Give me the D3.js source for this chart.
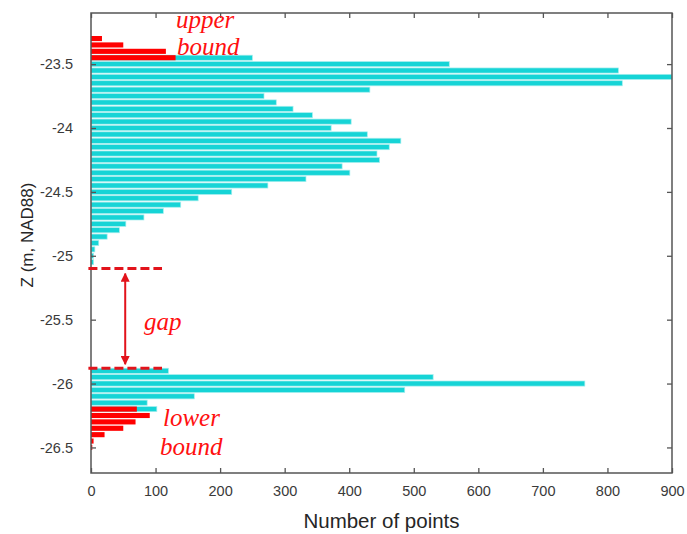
<!DOCTYPE html>
<html>
<head>
<meta charset="utf-8">
<script src="https://cdn.jsdelivr.net/npm/d3@7"></script>
<style>
  html, body { margin: 0; padding: 0; background: #fff; }
  svg { display: block; }
  .tick text { font-family: "Liberation Sans", Arial, sans-serif; fill: #3a3a3a; }
</style>
</head>
<body>
<svg id="chart" width="687" height="534"></svg>
<script>
// Histogram of point elevations (0.05 m bins)
const allZ = [
  -23.45, -23.5, -23.55, -23.6, -23.65, -23.7, -23.75, -23.8, -23.85, -23.9,
  -23.95, -24.0, -24.05, -24.1, -24.15, -24.2, -24.25, -24.3, -24.35, -24.4,
  -24.45, -24.5, -24.55, -24.6, -24.65, -24.7, -24.75, -24.8, -24.85, -24.9,
  -24.95, -25.0, -25.05,
  -25.9, -25.95, -26.0, -26.05, -26.1, -26.15, -26.2
];
const allCount = [
  250, 555, 817, 900, 823, 432, 268, 287, 313, 343,
  403, 372, 428, 480, 462, 443, 447, 389, 401, 333,
  274, 218, 166, 139, 112, 82, 54, 44, 25, 12,
  6, 4, 4,
  120, 530, 765, 486, 160, 87, 102
];

// Points falling in the upper and lower boundary layers
const boundZ = [-23.3, -23.35, -23.4, -23.45, -26.2, -26.25, -26.3, -26.35, -26.4, -26.45, -26.5];
const boundCount = [17, 50, 116, 131, 71, 91, 69, 50, 21, 4, 2];

// Gap between the two layers
const gapTop = -25.1;
const gapBottom = -25.88;
const gapLineEnd = 110;   // dashed markers extend to this count
const gapArrowAt = 53;    // arrow position on the count axis

const xTicks = [0, 100, 200, 300, 400, 500, 600, 700, 800, 900];
const yTicks = [-23.5, -24, -24.5, -25, -25.5, -26, -26.5];
const binWidth = 0.05;

const svg = d3.select("#chart");
const plotL = 91, plotR = 672, plotT = 13, plotB = 473;

const x = d3.scaleLinear().domain([0, 900]).range([plotL, plotR]);
const y = d3.scaleLinear().domain([-26.7, -23.1]).range([plotB, plotT]);
const barH = Math.abs(y(0) - y(binWidth)) * 0.8;

const defs = svg.append("defs");
defs.append("clipPath").attr("id", "plot")
  .append("rect").attr("x", plotL).attr("y", plotT)
  .attr("width", plotR - plotL).attr("height", plotB - plotT);

const plot = svg.append("g").attr("clip-path", "url(#plot)");

plot.selectAll("rect.all").data(allZ).enter().append("rect")
  .attr("class", "all")
  .attr("x", x(0))
  .attr("y", d => y(d) - barH / 2)
  .attr("width", (d, i) => x(allCount[i]) - x(0))
  .attr("height", barH)
  .attr("fill", "#16d4d6")
  .attr("stroke", "#a6eeee")
  .attr("stroke-width", 0.7);

plot.selectAll("rect.bound").data(boundZ).enter().append("rect")
  .attr("class", "bound")
  .attr("x", x(0))
  .attr("y", d => y(d) - barH / 2)
  .attr("width", (d, i) => x(boundCount[i]) - x(0))
  .attr("height", barH)
  .attr("fill", "#ff0000");

// Axes: ticks point inwards on all four sides
const axisColor = "#555";
const plainNum = d => String(d);
svg.append("g").attr("transform", `translate(${plotL},0)`)
  .call(d3.axisLeft(y).tickValues(yTicks).tickFormat(plainNum).tickSizeInner(-5).tickSizeOuter(0).tickPadding(18));
svg.append("g").attr("transform", `translate(0,${plotB})`)
  .call(d3.axisBottom(x).tickValues(xTicks).tickFormat(plainNum).tickSizeInner(-5).tickSizeOuter(0).tickPadding(13));
svg.append("g").attr("transform", `translate(${plotR},0)`)
  .call(d3.axisRight(y).tickValues(yTicks).tickSizeInner(-5).tickSizeOuter(0).tickFormat(""));
svg.append("g").attr("transform", `translate(0,${plotT})`)
  .call(d3.axisTop(x).tickValues(xTicks).tickSizeInner(-5).tickSizeOuter(0).tickFormat(""));

svg.selectAll(".domain").remove();
svg.selectAll(".tick line").attr("stroke", axisColor).attr("stroke-width", 1.3);
svg.selectAll(".tick text").attr("font-size", 14.5);

svg.append("rect")
  .attr("x", plotL).attr("y", plotT)
  .attr("width", plotR - plotL).attr("height", plotB - plotT)
  .attr("fill", "none").attr("stroke", axisColor).attr("stroke-width", 1.5);

// Axis titles
svg.append("text")
  .attr("x", (plotL + plotR) / 2).attr("y", 528)
  .attr("text-anchor", "middle")
  .attr("font-family", "Liberation Sans, Arial, sans-serif")
  .attr("font-size", 20.5).attr("fill", "#262626")
  .text("Number of points");

svg.append("text")
  .attr("transform", "translate(33,235) rotate(-90)")
  .attr("text-anchor", "middle")
  .attr("font-family", "Liberation Sans, Arial, sans-serif")
  .attr("font-size", 17).attr("fill", "#262626")
  .text("Z (m, NAD88)");

// Gap annotation
const red = "#e2131b";
[gapTop, gapBottom].forEach(v => {
  svg.append("line")
    .attr("x1", x(-4)).attr("x2", x(gapLineEnd))
    .attr("y1", y(v)).attr("y2", y(v))
    .attr("stroke", red).attr("stroke-width", 3)
    .attr("stroke-dasharray", "9,4");
});

defs.append("marker").attr("id", "head")
  .attr("viewBox", "0 0 10 10").attr("refX", 9).attr("refY", 5)
  .attr("markerWidth", 4.5).attr("markerHeight", 4.5)
  .attr("markerUnits", "strokeWidth")
  .attr("orient", "auto-start-reverse")
  .append("path").attr("d", "M0,0 L10,5 L0,10 Z").attr("fill", red);

svg.append("line")
  .attr("x1", x(gapArrowAt)).attr("x2", x(gapArrowAt))
  .attr("y1", y(gapTop) + 5).attr("y2", y(gapBottom) - 4)
  .attr("stroke", red).attr("stroke-width", 2)
  .attr("marker-start", "url(#head)").attr("marker-end", "url(#head)");

// Labels
const labelFont = "'Liberation Serif', 'DejaVu Serif', serif";
const labels = [
  { t: "upper", x: 176, y: 27.5 },
  { t: "bound", x: 177, y: 55 },
  { t: "gap", x: 144, y: 330 },
  { t: "lower", x: 163, y: 426 },
  { t: "bound", x: 160, y: 455 }
];
svg.selectAll("text.note").data(labels).enter().append("text")
  .attr("class", "note")
  .attr("x", d => d.x).attr("y", d => d.y)
  .attr("font-family", labelFont).attr("font-style", "italic")
  .attr("font-size", 25).attr("fill", "#ff1010")
  .text(d => d.t);
</script>
</body>
</html>
